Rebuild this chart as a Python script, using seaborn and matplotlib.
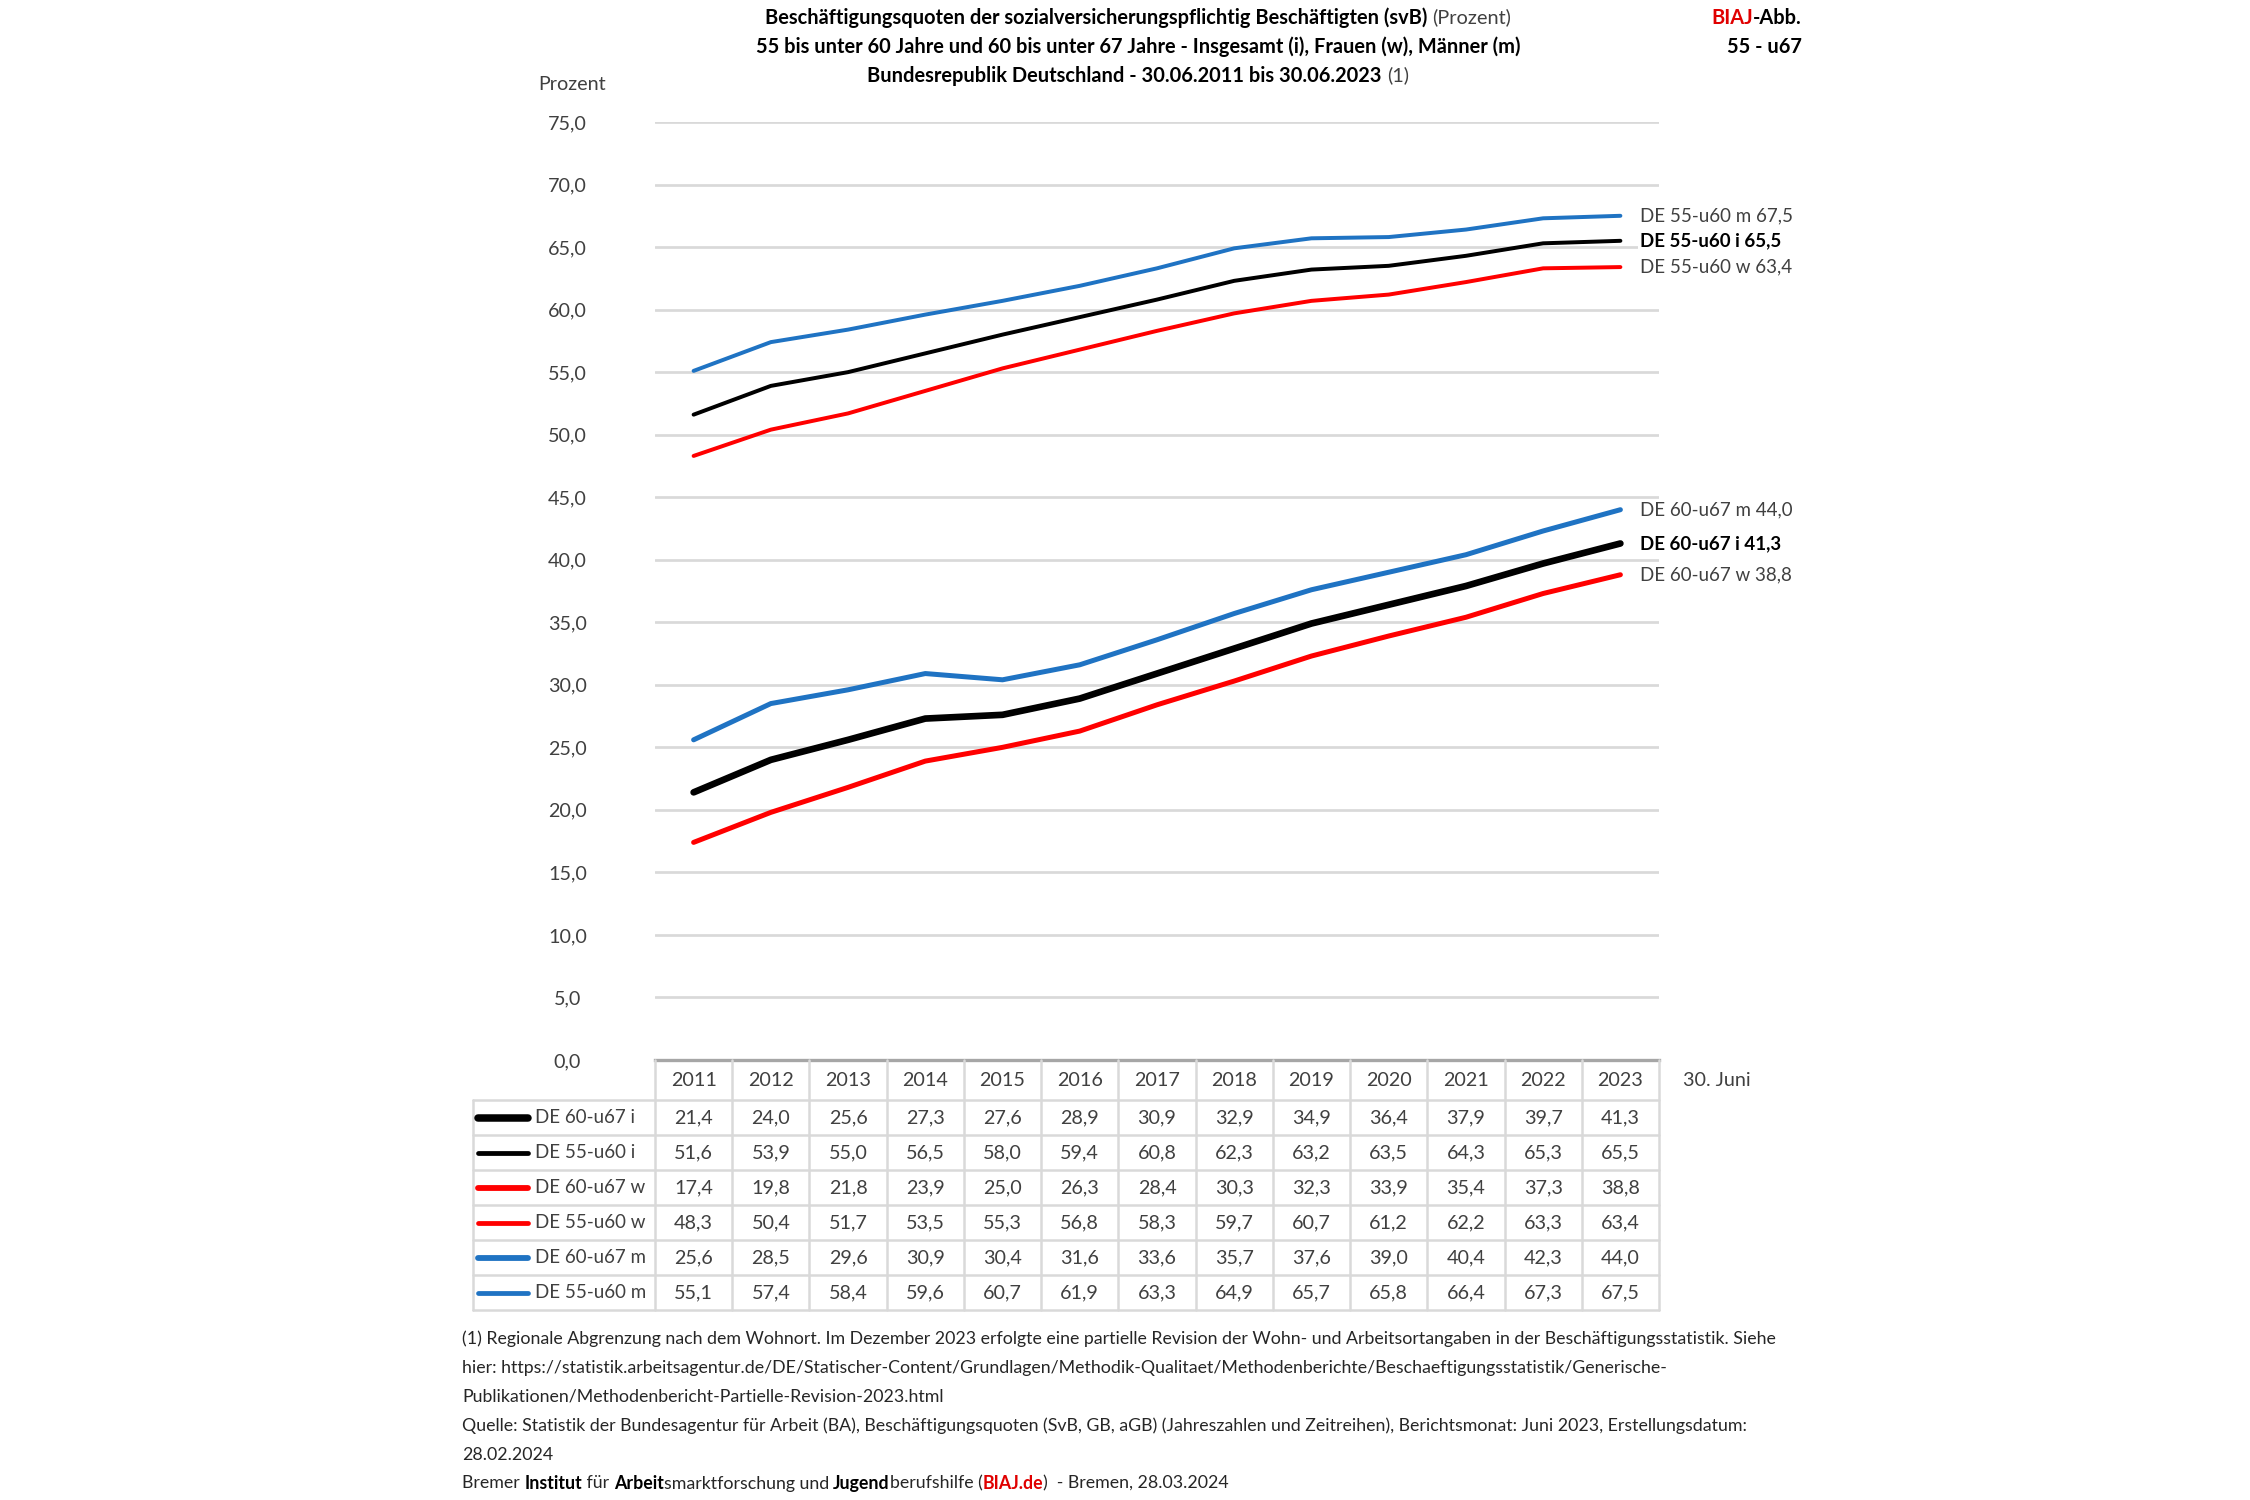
import numpy as np
import seaborn as sns
import matplotlib.pyplot as plt
from matplotlib.lines import Line2D

# ----------------------------
# DATA (30. Juni, Prozent)
# ----------------------------
years = list(range(2011, 2024))

de60_i = [21.4, 24.0, 25.6, 27.3, 27.6, 28.9, 30.9, 32.9, 34.9, 36.4, 37.9, 39.7, 41.3]
de55_i = [51.6, 53.9, 55.0, 56.5, 58.0, 59.4, 60.8, 62.3, 63.2, 63.5, 64.3, 65.3, 65.5]
de60_w = [17.4, 19.8, 21.8, 23.9, 25.0, 26.3, 28.4, 30.3, 32.3, 33.9, 35.4, 37.3, 38.8]
de55_w = [48.3, 50.4, 51.7, 53.5, 55.3, 56.8, 58.3, 59.7, 60.7, 61.2, 62.2, 63.3, 63.4]
de60_m = [25.6, 28.5, 29.6, 30.9, 30.4, 31.6, 33.6, 35.7, 37.6, 39.0, 40.4, 42.3, 44.0]
de55_m = [55.1, 57.4, 58.4, 59.6, 60.7, 61.9, 63.3, 64.9, 65.7, 65.8, 66.4, 67.3, 67.5]

names = ["DE 60-u67 i", "DE 55-u60 i", "DE 60-u67 w", "DE 55-u60 w", "DE 60-u67 m", "DE 55-u60 m"]
values = [de60_i, de55_i, de60_w, de55_w, de60_m, de55_m]

BLACK = "#000000"
RED = "#FF0000"
BLUE = "#1F73C3"
colors = [BLACK, BLACK, RED, RED, BLUE, BLUE]
widths = [3.2, 1.9, 2.4, 1.9, 2.4, 1.9]

TXT = "#404040"
GRID = "#D9D9D9"


def fmt(v):
    return f"{v:.1f}".replace(".", ",")


sns.set_style("white")
plt.rcParams["font.family"] = ["Lato", "DejaVu Sans"]

W, H = 2250, 1500
fig = plt.figure(figsize=(15, 10), dpi=150)


def fx(x):
    return x / W


def fy(y):
    return 1 - y / H


# ----------------------------
# LINE CHART
# ----------------------------
L, R, T, B = 655, 1659, 122, 1060
ax = fig.add_axes([fx(L), fy(B), fx(R) - fx(L), fy(T) - fy(B)])

for name, vals, col, lw in zip(names, values, colors, widths):
    sns.lineplot(x=years, y=vals, color=col, linewidth=lw, ax=ax, legend=False)

ax.set_xlim(2010.5, 2023.5)
ax.set_ylim(0, 75)
yt = np.arange(0, 76, 5)
ax.set_yticks(yt)
ax.set_yticklabels([fmt(v) for v in yt])
ax.set_xticks([])
ax.set_xlabel("")
ax.set_ylabel("")
ax.tick_params(axis="y", length=0, pad=42, labelsize=9.5, labelcolor=TXT)
for lab in ax.get_yticklabels():
    lab.set_ha("center")
ax.yaxis.grid(True, color=GRID, linewidth=1.3)
for s in ["left", "right", "top"]:
    ax.spines[s].set_visible(False)
ax.spines["bottom"].set_color("#A6A6A6")
ax.spines["bottom"].set_linewidth(1.6)

fig.text(fx(572), fy(85), "Prozent", ha="center", va="center", fontsize=9.5, color=TXT)

# end labels
x_lab = 2023 + 20 / 77.2
for name, vals, col in zip(names, values, colors):
    bold = name.endswith(" i")
    ax.text(x_lab, vals[-1], f"{name} {fmt(vals[-1])}", ha="left", va="center",
            fontsize=9, color="#000000" if bold else TXT,
            weight="bold" if bold else "normal", clip_on=False,
            bbox=dict(fc="white", ec="none", pad=1.0))

# ----------------------------
# DATA TABLE
# ----------------------------
TL, TB = 473, 1310
tax = fig.add_axes([fx(TL), fy(TB), fx(R) - fx(TL), fy(B) - fy(TB)])
col_w = (R - L) / 13
x0 = 2010.5 - (L - TL) / col_w
hh = 40 / 35
tax.set_xlim(x0, 2023.5)
tax.set_ylim(6, -hh)
tax.axis("off")

for r in range(7):
    tax.plot([x0, 2023.5], [r, r], color=GRID, lw=1.2, clip_on=False)
for k in range(14):
    tax.plot([2010.5 + k, 2010.5 + k], [-hh, 6], color=GRID, lw=1.2, clip_on=False)
tax.plot([x0, x0], [0, 6], color=GRID, lw=1.2, clip_on=False)

for yr in years:
    tax.text(yr, -hh / 2, str(yr), ha="center", va="center", fontsize=9.5, color=TXT)

for r, (name, vals, col, lw) in enumerate(zip(names, values, colors, widths)):
    tax.add_line(Line2D([x0 + 5 / col_w, x0 + 55 / col_w], [r + 0.5, r + 0.5],
                        color=col, lw=lw + 0.4, solid_capstyle="round"))
    tax.text(x0 + 62 / col_w, r + 0.5, name, ha="left", va="center", fontsize=9, color=TXT)
    for yr, v in zip(years, vals):
        tax.text(yr, r + 0.5, fmt(v), ha="center", va="center", fontsize=9.5, color=TXT)

fig.text(fx(1683), fy(1080), "30. Juni", ha="left", va="center", fontsize=9.5, color=TXT)

# ----------------------------
# TITLE / NOTES (mixed weights)
# ----------------------------
renderer = fig.canvas.get_renderer()


def rich(x, y, parts, ha="left", size=9.6):
    texts = []
    for s, w, c in parts:
        texts.append(fig.text(0, fy(y), s, fontsize=size, weight=w, color=c, va="center_baseline"))
    wds = [t.get_window_extent(renderer).width for t in texts]
    total = sum(wds)
    if ha == "center":
        start = x - total / 2
    elif ha == "right":
        start = x - total
    else:
        start = x
    for t, w in zip(texts, wds):
        t.set_x(fx(start))
        start += w


rich(1138, 16, [("Beschäftigungsquoten der sozialversicherungspflichtig Beschäftigten (svB) ", "bold", BLACK),
                ("(Prozent)", "normal", TXT)], ha="center")
rich(1138, 45, [("55 bis unter 60 Jahre und 60 bis unter 67 Jahre - Insgesamt (i), Frauen (w), Männer (m)",
                 "bold", BLACK)], ha="center")
rich(1138, 74, [("Bundesrepublik Deutschland - 30.06.2011 bis 30.06.2023 ", "bold", BLACK),
                ("(1)", "normal", TXT)], ha="center")
rich(1802, 16, [("BIAJ", "bold", "#E00000"), ("-Abb.", "bold", BLACK)], ha="right")
rich(1802, 45, [("55 - u67", "bold", BLACK)], ha="right")

notes = [
    "(1) Regionale Abgrenzung nach dem Wohnort. Im Dezember 2023 erfolgte eine partielle Revision der Wohn- und Arbeitsortangaben in der Beschäftigungsstatistik. Siehe",
    "hier: https://statistik.arbeitsagentur.de/DE/Statischer-Content/Grundlagen/Methodik-Qualitaet/Methodenberichte/Beschaeftigungsstatistik/Generische-",
    "Publikationen/Methodenbericht-Partielle-Revision-2023.html",
    "Quelle: Statistik der Bundesagentur für Arbeit (BA), Beschäftigungsquoten (SvB, GB, aGB) (Jahreszahlen und Zeitreihen), Berichtsmonat: Juni 2023, Erstellungsdatum:",
    "28.02.2024",
]
note_y = [1337, 1366, 1395, 1424, 1453]
for s, y in zip(notes, note_y):
    rich(462, y, [(s, "normal", "#262626")], size=8.5)

rich(462, 1482, [("Bremer ", "normal", "#262626"), ("Institut", "bold", BLACK),
                 (" für ", "normal", "#262626"), ("Arbeit", "bold", BLACK),
                 ("smarktforschung und ", "normal", "#262626"), ("Jugend", "bold", BLACK),
                 ("berufshilfe (", "normal", "#262626"), ("BIAJ.de", "bold", "#E00000"),
                 (")  - Bremen, 28.03.2024", "normal", "#262626")], size=8.5)

fig.savefig("out.png", dpi=150, facecolor="white")
